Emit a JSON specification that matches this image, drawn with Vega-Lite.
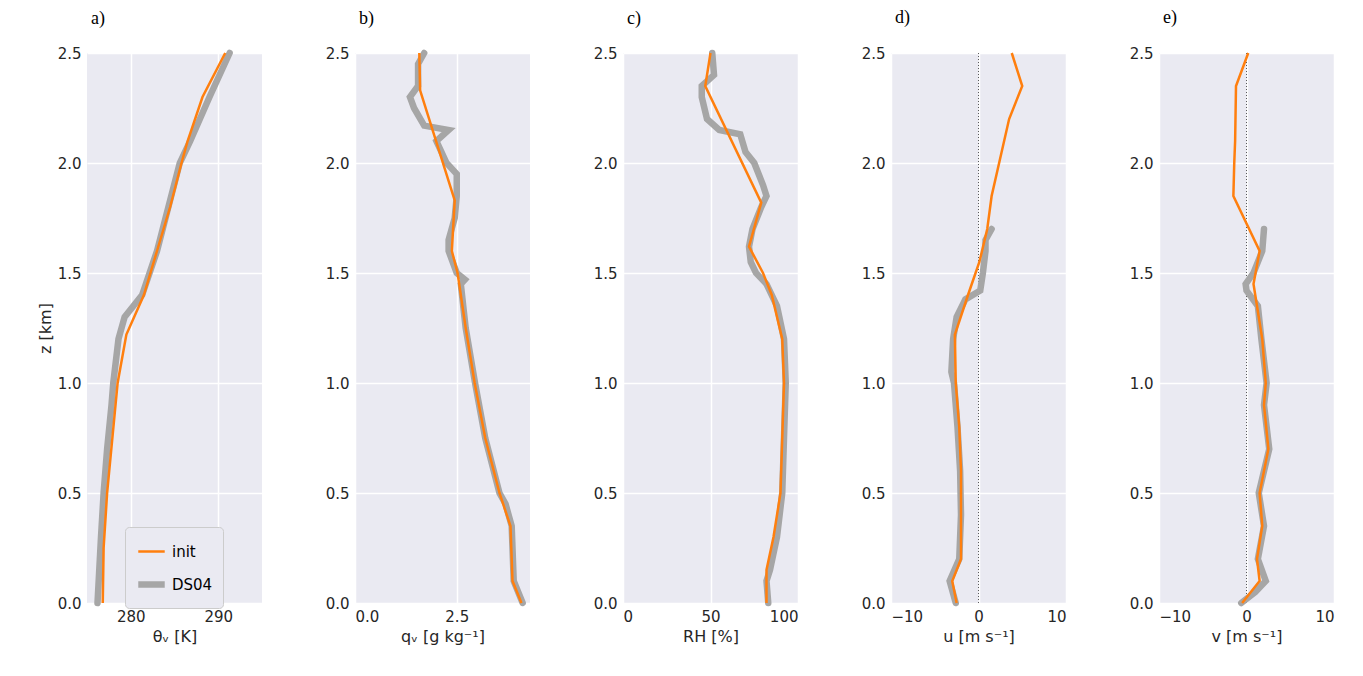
{
"$schema":"https://vega.github.io/schema/vega-lite/v6.json",
"background":"white",
"padding":{"left":37,"top":9,"right":5,"bottom":5},
"bounds":"flush",
"spacing":93,
"config":{"view":{"fill":"#EAEAF2","stroke":null},"axis":{"grid":true,"gridColor":"white","gridWidth":1.5,"domain":false,"ticks":false,"labelFont":"DejaVu Sans","labelFontSize":15,"labelColor":"#262626","titleFont":"DejaVu Sans","titleFontSize":16,"titleFontWeight":"normal","titleColor":"#262626","labelPadding":6},"title":{"font":"Liberation Serif","fontSize":18,"fontWeight":"normal","anchor":"start","frame":"group","dx":4,"offset":12},"legend":{"labelFont":"DejaVu Sans","labelFontSize":15}},
"datasets":{"d":[
{"p":"a","s":"init","z":0,"x":276.8},{"p":"a","s":"init","z":0.25,"x":276.9},{"p":"a","s":"init","z":0.5,"x":277.3},{"p":"a","s":"init","z":0.75,"x":277.9},{"p":"a","s":"init","z":1.0,"x":278.5},{"p":"a","s":"init","z":1.22,"x":279.5},{"p":"a","s":"init","z":1.4,"x":281.5},{"p":"a","s":"init","z":1.6,"x":283},{"p":"a","s":"init","z":1.8,"x":284.5},{"p":"a","s":"init","z":2.0,"x":285.8},{"p":"a","s":"init","z":2.1,"x":286.5},{"p":"a","s":"init","z":2.3,"x":288.2},{"p":"a","s":"init","z":2.5,"x":290.8},
{"p":"a","s":"DS04","z":0,"x":276.2},{"p":"a","s":"DS04","z":0.3,"x":276.6},{"p":"a","s":"DS04","z":0.5,"x":276.9},{"p":"a","s":"DS04","z":0.7,"x":277.3},{"p":"a","s":"DS04","z":0.9,"x":277.8},{"p":"a","s":"DS04","z":1.0,"x":278.0},{"p":"a","s":"DS04","z":1.2,"x":278.6},{"p":"a","s":"DS04","z":1.3,"x":279.3},{"p":"a","s":"DS04","z":1.35,"x":280.3},{"p":"a","s":"DS04","z":1.4,"x":281.3},{"p":"a","s":"DS04","z":1.6,"x":283.0},{"p":"a","s":"DS04","z":1.8,"x":284.3},{"p":"a","s":"DS04","z":2.0,"x":285.6},{"p":"a","s":"DS04","z":2.1,"x":286.8},{"p":"a","s":"DS04","z":2.3,"x":289.0},{"p":"a","s":"DS04","z":2.5,"x":291.3},
{"p":"b","s":"init","z":0,"x":4.09},{"p":"b","s":"init","z":0.1,"x":3.87},{"p":"b","s":"init","z":0.35,"x":3.82},{"p":"b","s":"init","z":0.5,"x":3.55},{"p":"b","s":"init","z":0.75,"x":3.2},{"p":"b","s":"init","z":1.0,"x":2.94},{"p":"b","s":"init","z":1.25,"x":2.72},{"p":"b","s":"init","z":1.5,"x":2.52},{"p":"b","s":"init","z":1.6,"x":2.38},{"p":"b","s":"init","z":1.83,"x":2.45},{"p":"b","s":"init","z":2.33,"x":1.6},{"p":"b","s":"init","z":2.5,"x":1.58},
{"p":"b","s":"DS04","z":0,"x":4.12},{"p":"b","s":"DS04","z":0.1,"x":3.9},{"p":"b","s":"DS04","z":0.2,"x":3.88},{"p":"b","s":"DS04","z":0.35,"x":3.85},{"p":"b","s":"DS04","z":0.45,"x":3.7},{"p":"b","s":"DS04","z":0.5,"x":3.55},{"p":"b","s":"DS04","z":0.75,"x":3.2},{"p":"b","s":"DS04","z":1.0,"x":2.95},{"p":"b","s":"DS04","z":1.25,"x":2.72},{"p":"b","s":"DS04","z":1.45,"x":2.6},{"p":"b","s":"DS04","z":1.47,"x":2.7},{"p":"b","s":"DS04","z":1.5,"x":2.5},{"p":"b","s":"DS04","z":1.6,"x":2.3},{"p":"b","s":"DS04","z":1.65,"x":2.3},{"p":"b","s":"DS04","z":1.75,"x":2.45},{"p":"b","s":"DS04","z":1.85,"x":2.5},{"p":"b","s":"DS04","z":1.95,"x":2.5},{"p":"b","s":"DS04","z":2.0,"x":2.25},{"p":"b","s":"DS04","z":2.1,"x":2.0},{"p":"b","s":"DS04","z":2.15,"x":2.3},{"p":"b","s":"DS04","z":2.17,"x":1.7},{"p":"b","s":"DS04","z":2.25,"x":1.45},{"p":"b","s":"DS04","z":2.3,"x":1.35},{"p":"b","s":"DS04","z":2.35,"x":1.55},{"p":"b","s":"DS04","z":2.45,"x":1.55},{"p":"b","s":"DS04","z":2.5,"x":1.7},
{"p":"c","s":"init","z":0,"x":82},{"p":"c","s":"init","z":0.15,"x":82},{"p":"c","s":"init","z":0.3,"x":86},{"p":"c","s":"init","z":0.5,"x":90},{"p":"c","s":"init","z":1.0,"x":92},{"p":"c","s":"init","z":1.2,"x":91},{"p":"c","s":"init","z":1.4,"x":85},{"p":"c","s":"init","z":1.5,"x":80},{"p":"c","s":"init","z":1.62,"x":72},{"p":"c","s":"init","z":1.82,"x":79},{"p":"c","s":"init","z":2.35,"x":47},{"p":"c","s":"init","z":2.5,"x":50},
{"p":"c","s":"DS04","z":0,"x":83},{"p":"c","s":"DS04","z":0.1,"x":82},{"p":"c","s":"DS04","z":0.15,"x":84},{"p":"c","s":"DS04","z":0.3,"x":88},{"p":"c","s":"DS04","z":0.5,"x":91},{"p":"c","s":"DS04","z":0.75,"x":92},{"p":"c","s":"DS04","z":1.0,"x":93},{"p":"c","s":"DS04","z":1.2,"x":92},{"p":"c","s":"DS04","z":1.35,"x":88},{"p":"c","s":"DS04","z":1.45,"x":82},{"p":"c","s":"DS04","z":1.5,"x":76},{"p":"c","s":"DS04","z":1.55,"x":73},{"p":"c","s":"DS04","z":1.62,"x":72},{"p":"c","s":"DS04","z":1.7,"x":74},{"p":"c","s":"DS04","z":1.8,"x":79},{"p":"c","s":"DS04","z":1.85,"x":82},{"p":"c","s":"DS04","z":1.9,"x":80},{"p":"c","s":"DS04","z":2.0,"x":75},{"p":"c","s":"DS04","z":2.05,"x":70},{"p":"c","s":"DS04","z":2.13,"x":67},{"p":"c","s":"DS04","z":2.15,"x":55},{"p":"c","s":"DS04","z":2.2,"x":48},{"p":"c","s":"DS04","z":2.3,"x":45},{"p":"c","s":"DS04","z":2.35,"x":45},{"p":"c","s":"DS04","z":2.4,"x":52},{"p":"c","s":"DS04","z":2.5,"x":51},
{"p":"d","s":"init","z":0,"x":-2.5},{"p":"d","s":"init","z":0.1,"x":-3},{"p":"d","s":"init","z":0.2,"x":-2},{"p":"d","s":"init","z":0.4,"x":-2},{"p":"d","s":"init","z":0.6,"x":-2},{"p":"d","s":"init","z":0.8,"x":-2.2},{"p":"d","s":"init","z":1.0,"x":-2.6},{"p":"d","s":"init","z":1.22,"x":-2.7},{"p":"d","s":"init","z":1.4,"x":-1.2},{"p":"d","s":"init","z":1.55,"x":0.1},{"p":"d","s":"init","z":1.7,"x":1},{"p":"d","s":"init","z":1.85,"x":1.5},{"p":"d","s":"init","z":2.2,"x":3.5},{"p":"d","s":"init","z":2.35,"x":5},{"p":"d","s":"init","z":2.5,"x":3.8},
{"p":"d","s":"DS04","z":0,"x":-2.6},{"p":"d","s":"DS04","z":0.1,"x":-3.3},{"p":"d","s":"DS04","z":0.2,"x":-2.2},{"p":"d","s":"DS04","z":0.4,"x":-2.0},{"p":"d","s":"DS04","z":0.6,"x":-2.1},{"p":"d","s":"DS04","z":0.8,"x":-2.4},{"p":"d","s":"DS04","z":1.0,"x":-2.8},{"p":"d","s":"DS04","z":1.05,"x":-3.1},{"p":"d","s":"DS04","z":1.2,"x":-2.9},{"p":"d","s":"DS04","z":1.3,"x":-2.5},{"p":"d","s":"DS04","z":1.38,"x":-1.5},{"p":"d","s":"DS04","z":1.42,"x":0.2},{"p":"d","s":"DS04","z":1.5,"x":0.5},{"p":"d","s":"DS04","z":1.6,"x":0.8},{"p":"d","s":"DS04","z":1.65,"x":0.8},{"p":"d","s":"DS04","z":1.7,"x":1.5},
{"p":"e","s":"init","z":0,"x":-0.5},{"p":"e","s":"init","z":0.05,"x":0.5},{"p":"e","s":"init","z":0.1,"x":1.5},{"p":"e","s":"init","z":0.2,"x":1.2},{"p":"e","s":"init","z":0.35,"x":1.8},{"p":"e","s":"init","z":0.5,"x":1.5},{"p":"e","s":"init","z":0.7,"x":2.5},{"p":"e","s":"init","z":0.9,"x":2.0},{"p":"e","s":"init","z":1.0,"x":2.2},{"p":"e","s":"init","z":1.2,"x":1.8},{"p":"e","s":"init","z":1.35,"x":1.2},{"p":"e","s":"init","z":1.45,"x":0.8},{"p":"e","s":"init","z":1.6,"x":1.5},{"p":"e","s":"init","z":1.85,"x":-1.5},{"p":"e","s":"init","z":2.0,"x":-1.4},{"p":"e","s":"init","z":2.1,"x":-1.3},{"p":"e","s":"init","z":2.35,"x":-1.2},{"p":"e","s":"init","z":2.5,"x":0.2},
{"p":"e","s":"DS04","z":0,"x":-0.6},{"p":"e","s":"DS04","z":0.05,"x":1},{"p":"e","s":"DS04","z":0.1,"x":2.2},{"p":"e","s":"DS04","z":0.2,"x":1.3},{"p":"e","s":"DS04","z":0.35,"x":2.0},{"p":"e","s":"DS04","z":0.5,"x":1.4},{"p":"e","s":"DS04","z":0.7,"x":2.6},{"p":"e","s":"DS04","z":0.9,"x":2.0},{"p":"e","s":"DS04","z":1.0,"x":2.3},{"p":"e","s":"DS04","z":1.2,"x":1.7},{"p":"e","s":"DS04","z":1.35,"x":1.3},{"p":"e","s":"DS04","z":1.42,"x":0.0},{"p":"e","s":"DS04","z":1.45,"x":-0.1},{"p":"e","s":"DS04","z":1.5,"x":0.8},{"p":"e","s":"DS04","z":1.6,"x":1.8},{"p":"e","s":"DS04","z":1.7,"x":2.0}
],"zero":[{"x":0,"y0":0,"y1":2.5}]},
"hconcat":[
{"title":"a)","width":175,"height":550,"data":{"name":"d"},"transform":[{"filter":"datum.p=='a'"}],
"encoding":{"y":{"field":"z","type":"quantitative","scale":{"domain":[0,2.5],"nice":false},"axis":{"values":[0,0.5,1,1.5,2,2.5],"format":".1f","title":"z  [km]"}},"x":{"field":"x","type":"quantitative","scale":{"domain":[275,295],"nice":false,"zero":false},"axis":{"values":[280,290],"title":"θᵥ  [K]"}},"order":{"field":"z"},
"color":{"field":"s","type":"nominal","scale":{"domain":["init","DS04"],"range":["#ff7f0e","#a6a6a6"]},"legend":{"title":null,"orient":"none","legendX":38,"legendY":474,"fillColor":"#EAEAF2","strokeColor":"#cccccc","padding":10,"cornerRadius":4,"symbolType":"stroke","symbolSize":700,"rowPadding":8}},
"strokeWidth":{"field":"s","type":"nominal","scale":{"domain":["init","DS04"],"range":[2.5,6.5]},"legend":null}},
"layer":[{"mark":{"type":"line","strokeCap":"round"},"transform":[{"filter":"datum.s=='DS04'"}]},{"mark":{"type":"line"},"transform":[{"filter":"datum.s=='init'"}]}]},
{"title":"b)","width":175,"height":550,"data":{"name":"d"},"transform":[{"filter":"datum.p=='b'"}],
"encoding":{"y":{"field":"z","type":"quantitative","scale":{"domain":[0,2.5],"nice":false},"axis":{"values":[0,0.5,1,1.5,2,2.5],"format":".1f","title":null}},"x":{"field":"x","type":"quantitative","scale":{"domain":[0,4.3],"nice":false},"axis":{"values":[0,2.5],"format":".1f","title":"qᵥ  [g kg⁻¹]"}},"order":{"field":"z"},
"color":{"field":"s","type":"nominal","scale":{"domain":["init","DS04"],"range":["#ff7f0e","#a6a6a6"]},"legend":null},
"strokeWidth":{"field":"s","type":"nominal","scale":{"domain":["init","DS04"],"range":[2.5,6.5]},"legend":null}},
"layer":[{"mark":{"type":"line","strokeCap":"round"},"transform":[{"filter":"datum.s=='DS04'"}]},{"mark":{"type":"line"},"transform":[{"filter":"datum.s=='init'"}]}]},
{"title":"c)","width":175,"height":550,"data":{"name":"d"},"transform":[{"filter":"datum.p=='c'"}],
"encoding":{"y":{"field":"z","type":"quantitative","scale":{"domain":[0,2.5],"nice":false},"axis":{"values":[0,0.5,1,1.5,2,2.5],"format":".1f","title":null}},"x":{"field":"x","type":"quantitative","scale":{"domain":[0,100],"nice":false},"axis":{"values":[0,50,100],"title":"RH  [%]"}},"order":{"field":"z"},
"color":{"field":"s","type":"nominal","scale":{"domain":["init","DS04"],"range":["#ff7f0e","#a6a6a6"]},"legend":null},
"strokeWidth":{"field":"s","type":"nominal","scale":{"domain":["init","DS04"],"range":[2.5,6.5]},"legend":null}},
"layer":[{"mark":{"type":"line","strokeCap":"round"},"transform":[{"filter":"datum.s=='DS04'"}]},{"mark":{"type":"line"},"transform":[{"filter":"datum.s=='init'"}]}]},
{"title":{"text":"d)","offset":19},"width":175,"height":550,
"layer":[
{"data":{"name":"zero"},"mark":{"type":"rule","color":"#333333","strokeWidth":0.8,"strokeDash":[1,2]},"encoding":{"x":{"field":"x","type":"quantitative"},"y":{"field":"y0","type":"quantitative"},"y2":{"field":"y1"}}},
{"data":{"name":"d"},"transform":[{"filter":"datum.p=='d'"}],
"encoding":{"y":{"field":"z","type":"quantitative","scale":{"domain":[0,2.5],"nice":false},"axis":{"values":[0,0.5,1,1.5,2,2.5],"format":".1f","title":null}},"x":{"field":"x","type":"quantitative","scale":{"domain":[-10,10],"nice":false},"axis":{"values":[-10,0,10],"format":"d","title":"u  [m s⁻¹]"}},"order":{"field":"z"},
"color":{"field":"s","type":"nominal","scale":{"domain":["init","DS04"],"range":["#ff7f0e","#a6a6a6"]},"legend":null},
"strokeWidth":{"field":"s","type":"nominal","scale":{"domain":["init","DS04"],"range":[2.5,6.5]},"legend":null}},
"layer":[{"mark":{"type":"line","strokeCap":"round"},"transform":[{"filter":"datum.s=='DS04'"}]},{"mark":{"type":"line"},"transform":[{"filter":"datum.s=='init'"}]}]}]},
{"title":{"text":"e)","offset":19},"width":175,"height":550,
"layer":[
{"data":{"name":"zero"},"mark":{"type":"rule","color":"#333333","strokeWidth":0.8,"strokeDash":[1,2]},"encoding":{"x":{"field":"x","type":"quantitative"},"y":{"field":"y0","type":"quantitative"},"y2":{"field":"y1"}}},
{"data":{"name":"d"},"transform":[{"filter":"datum.p=='e'"}],
"encoding":{"y":{"field":"z","type":"quantitative","scale":{"domain":[0,2.5],"nice":false},"axis":{"values":[0,0.5,1,1.5,2,2.5],"format":".1f","title":null}},"x":{"field":"x","type":"quantitative","scale":{"domain":[-10,10],"nice":false},"axis":{"values":[-10,0,10],"format":"d","title":"v  [m s⁻¹]"}},"order":{"field":"z"},
"color":{"field":"s","type":"nominal","scale":{"domain":["init","DS04"],"range":["#ff7f0e","#a6a6a6"]},"legend":null},
"strokeWidth":{"field":"s","type":"nominal","scale":{"domain":["init","DS04"],"range":[2.5,6.5]},"legend":null}},
"layer":[{"mark":{"type":"line","strokeCap":"round"},"transform":[{"filter":"datum.s=='DS04'"}]},{"mark":{"type":"line"},"transform":[{"filter":"datum.s=='init'"}]}]}]}
]
}
